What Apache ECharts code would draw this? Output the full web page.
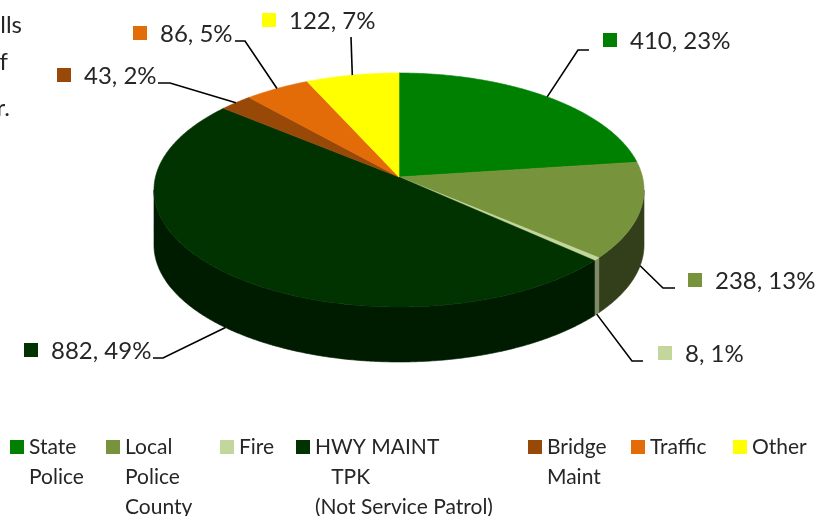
<!DOCTYPE html>
<html><head><meta charset="utf-8">
<script src="https://cdn.jsdelivr.net/npm/echarts@6/dist/echarts.min.js"></script>
<style>html,body{margin:0;padding:0;background:#fff}#c{width:817px;height:516px}</style>
</head><body><div id="c"></div>
<script>
// ---- data ----
const categories = ['State Police', 'Local Police County', 'Fire', 'HWY MAINT TPK (Not Service Patrol)', 'Bridge Maint', 'Traffic', 'Other'];
const legendLines = [['State', 'Police'], ['Local', 'Police', 'County'], ['Fire'], ['HWY MAINT', '   TPK', '(Not Service Patrol)'], ['Bridge', 'Maint'], ['Traffic'], ['Other']];
const values = [410, 238, 8, 882, 43, 86, 122];
const percentLabels = ['23%', '13%', '1%', '49%', '2%', '5%', '7%'];

// ---- styles / layout ----
const topColors = ['#008000', '#77933C', '#C3D69B', '#003300', '#984807', '#E36C09', '#FFFF00'];
const sideColors = ['#005a00', '#333F1A', '#7E8A64', '#001C00', '#5E2C04', '#8E4406', '#A0A000'];
const labelBoxes = [[610, 40], [695, 280], [665, 353], [31, 350], [64, 75], [140, 33], [269, 20]];
const labelElbows = [[578, 50], [663, 288], [632, 361], [163, 358], [170, 83], [245, 41], [351, 37]];
const labelEnds = [[589, 50], [675, 288], [643, 361], [153, 358], [158, 83], [235, 41], [351, 37]];
const legendTextWidths = [57, 75, 37, 193, 64, 63, 55];
const PIE = { cx: 399, a: 95.89, b: 177, c: -0.1111, k: 243.5, depth: 55 };
const FONT = 'Lato, "Liberation Sans", sans-serif';
const TEXT = '#262626';

const total = values.reduce((s, v) => s + v, 0);
const starts = [];
values.reduce((s, v) => { starts.push(s); return s + v; }, 0);

const e = -PIE.c;
const PHI_R = Math.acos(-e) * 180 / Math.PI;
const PHI_L = 360 - PHI_R;

function proj(phiDeg, dy) {
  const r = phiDeg * Math.PI / 180;
  const u = Math.sin(r), v = -Math.cos(r);
  const d = 1 + PIE.c * v;
  return [PIE.cx + PIE.k * u / d, (PIE.a * v + PIE.b) / d + dy];
}

function arcPts(p1, p2, dy) {
  const pts = [];
  const n = Math.max(2, Math.ceil((p2 - p1) / 0.5));
  for (let j = 0; j <= n; j++) pts.push(proj(p1 + (p2 - p1) * j / n, dy));
  return pts;
}

function makeRender(i) {
  return function (params, api) {
    const s = api.value(0), v = api.value(1);
    const p1 = s / total * 360, p2 = (s + v) / total * 360;
    const children = [];
    const lo = Math.max(p1, PHI_R), hi = Math.min(p2, PHI_L);
    if (hi > lo) {
      const pts = arcPts(lo, hi, 0).concat(arcPts(lo, hi, PIE.depth).reverse());
      children.push({ type: 'polygon', shape: { points: pts }, style: { fill: sideColors[i], stroke: sideColors[i], lineWidth: 0.6 }, z2: 1 });
    }
    const top = [[PIE.cx, PIE.b]].concat(arcPts(p1, p2, 0));
    children.push({ type: 'polygon', shape: { points: top }, style: { fill: topColors[i], stroke: topColors[i], lineWidth: 0.6 }, z2: 2 });
    // leader line
    const pm = (p1 + p2) / 2;
    const anchor = (pm > PHI_R && pm < PHI_L) ? proj(pm, PIE.depth) : proj(pm, 0);
    children.push({ type: 'polyline', shape: { points: [anchor, labelElbows[i], labelEnds[i]] }, style: { stroke: '#000', lineWidth: 1.6, fill: null }, z2: 3 });
    // label
    const bx = labelBoxes[i][0], by = labelBoxes[i][1];
    children.push({ type: 'rect', shape: { x: bx - 7, y: by - 7, width: 14, height: 14 }, style: { fill: topColors[i] }, z2: 3 });
    children.push({ type: 'text', x: bx + 20, y: by + 1, style: { text: values[i] + ', ' + percentLabels[i], fill: TEXT, font: '24px ' + FONT, verticalAlign: 'middle', align: 'left' }, z2: 3 });
    return { type: 'group', children };
  };
}

const series = categories.map((name, i) => ({
  type: 'custom',
  name: name,
  coordinateSystem: 'none',
  itemStyle: { color: topColors[i] },
  data: [[starts[i], values[i]]],
  renderItem: makeRender(i),
  animation: false
}));

const rich = {};
legendTextWidths.forEach((w, i) => {
  rich['w' + i] = { width: w, fontFamily: FONT, fontSize: 21, color: TEXT, lineHeight: 30, align: 'left' };
});

const chart = echarts.init(document.getElementById('c'), null, { renderer: 'canvas' });
chart.setOption({
  backgroundColor: '#fff',
  animation: false,
  color: topColors,
  legend: {
    data: categories,
    left: 10, top: 372, padding: 0,
    itemWidth: 14, itemHeight: 14, itemGap: 20,
    icon: 'rect',
    selectedMode: false,
    textStyle: { fontFamily: FONT, fontSize: 21, color: TEXT, lineHeight: 30, rich: rich },
    formatter: function (name) {
      const idx = categories.indexOf(name);
      const lines = legendLines[idx].slice();
      while (lines.length < 3) lines.push(' ');
      return [' ', ' '].concat(lines).map(l => '{w' + idx + '|' + l + '}').join('\n');
    }
  },
  graphic: [
    { type: 'text', x: 22, y: 25, style: { text: 'Calls', fill: TEXT, font: '24px ' + FONT, align: 'right', verticalAlign: 'middle' } },
    { type: 'text', x: 8, y: 62, style: { text: 'of', fill: TEXT, font: '24px ' + FONT, align: 'right', verticalAlign: 'middle' } },
    { type: 'text', x: 10, y: 108, style: { text: 'year.', fill: TEXT, font: '24px ' + FONT, align: 'right', verticalAlign: 'middle' } }
  ],
  series: series
});
</script></body></html>
